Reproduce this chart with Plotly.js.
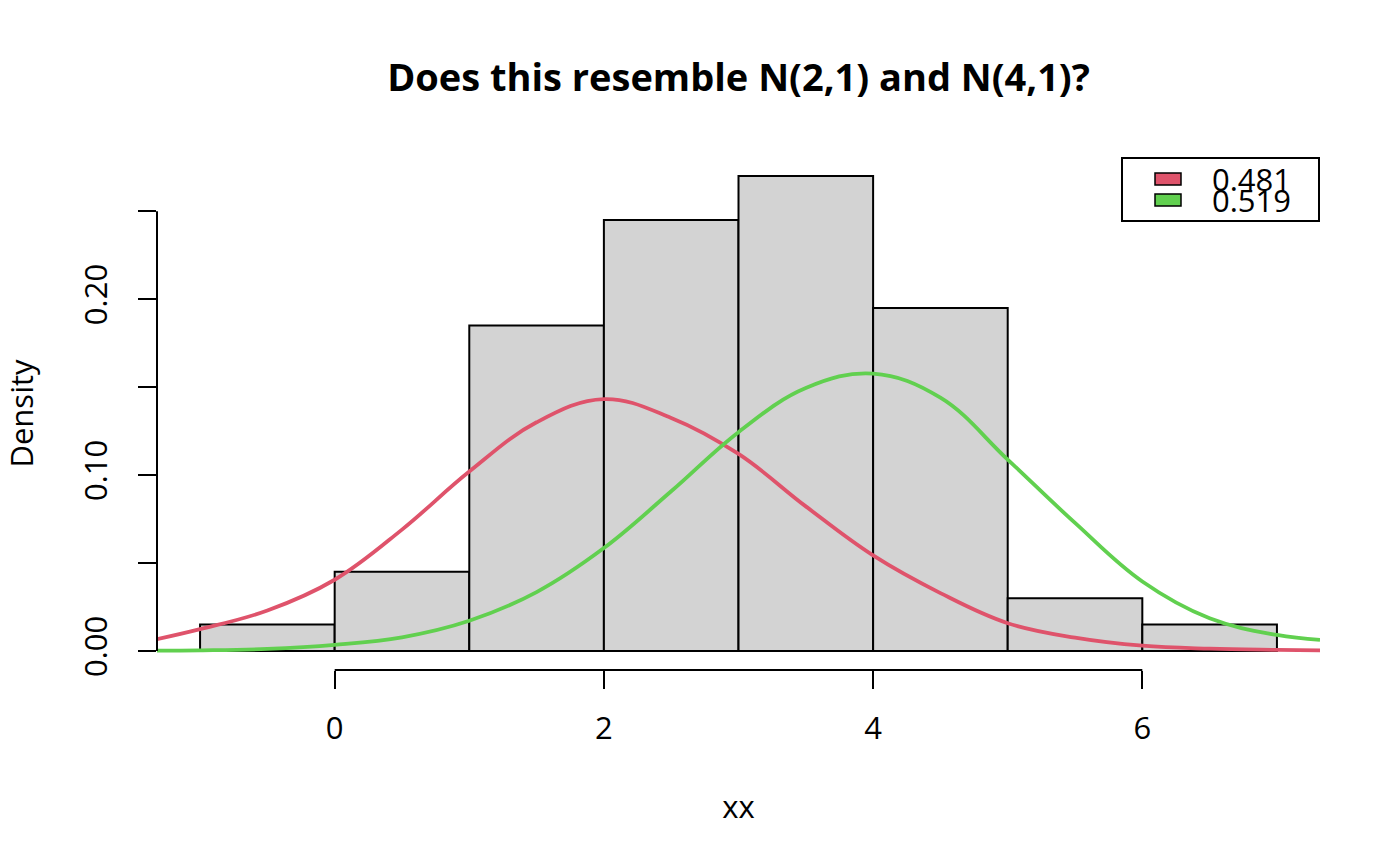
<!DOCTYPE html>
<html>
<head>
<meta charset="utf-8">
<script src="https://cdn.plot.ly/plotly-3.0.1.min.js"></script>
<style>
  body { margin: 0; background: #fff; }
  #hist { width: 1400px; height: 866px; }
</style>
</head>
<body>
<div id="hist"></div>
<script>
// histogram of xx (density scale), breaks every 1
var breaks = [-1, 0, 1, 2, 3, 4, 5, 6, 7];
var density = [0.015, 0.045, 0.185, 0.245, 0.270, 0.195, 0.030, 0.015];

// two fitted component curves
var curveX = [-1.32, -1, -0.5, 0, 0.5, 1, 1.5, 2, 2.5, 3, 3.5, 4, 4.5, 5, 5.5, 6, 6.5, 7, 7.32];
var redY   = [0.0067, 0.0124, 0.0230, 0.0405, 0.0690, 0.1020, 0.1300, 0.1432, 0.1325, 0.1120,
              0.0822, 0.0543, 0.0329, 0.0158, 0.0076, 0.0030, 0.0013, 0.0006, 0.0003];
var greenY = [0.0002, 0.0004, 0.0012, 0.0035, 0.0078, 0.0172, 0.0335, 0.0585, 0.0908, 0.1244,
              0.1495, 0.1577, 0.1440, 0.1088, 0.0728, 0.0395, 0.0186, 0.0091, 0.0063];

// legend labels = mixing weights
var weights = ['0.481', '0.519'];

// axis ticks (R style)
var xTicks = [0, 2, 4, 6];
var yTicks = [0, 0.05, 0.10, 0.15, 0.20, 0.25];
var yTickText = ['0.00', '', '0.10', '', '0.20', ''];

var red = '#DF536B';     // R palette 2
var green = '#61D04F';   // R palette 3
var font = 'Open Sans, Noto Sans, sans-serif';

// bar midpoints + widths from breaks
var mids = [], widths = [];
for (var i = 0; i < density.length; i++) {
  mids.push((breaks[i] + breaks[i + 1]) / 2);
  widths.push(breaks[i + 1] - breaks[i]);
}

var data = [
  {
    x: mids,
    y: density,
    width: widths,
    type: 'bar',
    marker: {
      color: '#D3D3D3',                 // lightgray
      line: {color: '#000', width: 2}
    },
    hoverinfo: 'skip'
  },
  {
    x: curveX,
    y: redY,
    type: 'scatter',
    mode: 'lines',
    line: {color: red, width: 3.8, shape: 'spline', smoothing: 1.1}
  },
  {
    x: curveX,
    y: greenY,
    type: 'scatter',
    mode: 'lines',
    line: {color: green, width: 3.8, shape: 'spline', smoothing: 1.1}
  }
];

// plot region in pixels: x 157..1320, y 157..670
var L = 157, R = 1320, T = 157, B = 670;
function px(x) { return (x - L) / (R - L); }     // pixel -> paper x
function py(y) { return (B - y) / (B - T); }     // pixel -> paper y

var shapes = [
  // R style axis lines, only from first to last tick
  {type: 'line', xref: 'x', yref: 'paper', x0: xTicks[0], x1: xTicks[xTicks.length - 1],
   y0: 0, y1: 0, line: {color: '#000', width: 2}},
  {type: 'line', xref: 'paper', yref: 'y', x0: 0, x1: 0,
   y0: yTicks[0], y1: yTicks[yTicks.length - 1], line: {color: '#000', width: 2}},
  // legend box
  {type: 'rect', xref: 'paper', yref: 'paper', x0: px(1122), x1: px(1319), y0: py(221), y1: py(158),
   line: {color: '#000', width: 2}, fillcolor: '#fff'}
];

var annotations = [];
var legendColors = [red, green];
var rowY = [179, 200];
for (var k = 0; k < weights.length; k++) {
  shapes.push({type: 'rect', xref: 'paper', yref: 'paper',
    x0: px(1155), x1: px(1181), y0: py(rowY[k] + 6), y1: py(rowY[k] - 6),
    line: {color: '#000', width: 1.5}, fillcolor: legendColors[k]});
  annotations.push({xref: 'paper', yref: 'paper', x: px(1210), y: py(rowY[k]),
    xanchor: 'left', yanchor: 'middle', showarrow: false, text: weights[k],
    font: {family: font, size: 31, color: '#000'}});
}

var layout = {
  width: 1400,
  height: 866,
  showlegend: false,
  paper_bgcolor: '#fff',
  plot_bgcolor: '#fff',
  margin: {l: L, r: 1400 - R, t: T, b: 866 - B, pad: 0},
  bargap: 0,
  font: {family: font, size: 31, color: '#000'},
  title: {
    text: '<b>Does this resemble N(2,1) and N(4,1)?</b>',
    font: {family: font, size: 38, color: '#000'},
    x: px(738.5), xref: 'paper', xanchor: 'center',
    y: 1 - 78 / 866, yanchor: 'middle'
  },
  xaxis: {
    range: [-1.32, 7.32],
    showgrid: false, zeroline: false, showline: false,
    tickmode: 'array', tickvals: xTicks,
    ticks: 'outside', ticklen: 18, tickwidth: 2, tickcolor: '#000',
    ticklabelstandoff: 13,
    tickfont: {family: font, size: 31},
    title: {text: 'xx', standoff: 49, font: {family: font, size: 31}}
  },
  yaxis: {
    range: [-0.0108, 0.2808],
    showgrid: false, zeroline: false, showline: false,
    tickmode: 'array', tickvals: yTicks, ticktext: yTickText,
    tickangle: -90,
    ticks: 'outside', ticklen: 18, tickwidth: 2, tickcolor: '#000',
    ticklabelstandoff: 19,
    tickfont: {family: font, size: 31},
    title: {text: 'Density', standoff: 36, font: {family: font, size: 31}}
  },
  shapes: shapes,
  annotations: annotations
};

Plotly.newPlot('hist', data, layout, {staticPlot: true});
</script>
</body>
</html>
